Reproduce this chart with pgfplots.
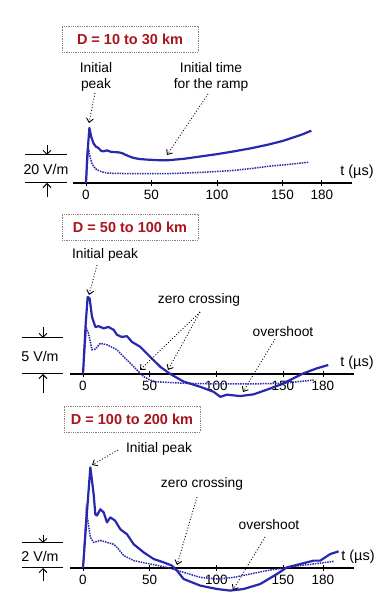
\documentclass[border=0pt]{standalone}
\usepackage{pgfplots}
\pgfplotsset{compat=1.18}
\usepackage{fontspec}
\setmainfont{Liberation Sans}
\usetikzlibrary{arrows.meta}
\definecolor{curve}{RGB}{40,40,175}
\definecolor{dred}{RGB}{170,20,30}
\definecolor{boxc}{RGB}{150,120,120}
\pgfplotsset{panel/.style={
  axis x line=middle, axis y line=none,
  axis line style={line width=1.7pt,-},
  xtick={0,50,100,150,180}, ytick=\empty,
  xticklabel style={font=\fontsize{13.5}{14}\selectfont, yshift=-0.5pt},
  tick style={black, line width=0.8pt},
  major tick length=6pt, tick align=center,
  /pgf/number format/assume math mode=true,
  clip=false, anchor=origin,
  xmin=-10, xmax=203,
}}
\tikzset{
  sol/.style={curve, line width=2.2pt, line join=round},
  dot/.style={curve, line width=1.5pt, densely dotted},
  ann/.style={black, line width=0.9pt, dotted, -{Straight Barb[length=4pt,width=7pt]}},
  sbar/.style={black, line width=1pt, -{Straight Barb[length=4pt,width=8pt]}},
  lab/.style={font=\fontsize{13.8}{16}\selectfont, align=center, inner sep=0pt},
  ttl/.style={draw=boxc, densely dotted, line width=0.8pt, minimum width=136pt, minimum height=26pt, inner sep=0pt,
     font=\bfseries\fontsize{14.5}{14.5}\selectfont, text=dred},
}
\begin{document}
\begin{tikzpicture}[x=1pt,y=1pt]
\useasboundingbox (0,0) rectangle (390,597);
% ---------- Panel 1 ----------
\begin{axis}[panel, at={(86pt,414pt)}, x=1.31pt, y=1.4pt, ymin=-5, ymax=45]
\addplot[sol] coordinates {(0,0) (1,20) (2.6,39.3) (4,33) (5.6,28.6) (7.5,26) (9.5,25) (11.5,23) (13.3,22.6) (15.9,23.3) (19.7,22.1) (24,22) (27.4,21.4) (30,20.2) (33,19) (36.4,17.9) (41,17.1) (46.7,16.7) (55,16.3) (62,16.2) (75,17.3) (87.7,19) (100,20.6) (113,22.6) (126,24.8) (139,27.4) (150,30) (159.5,32.9) (166,35) (172,37.4)};
\addplot[dot] coordinates {(0,0) (1.8,25) (3,19) (4.4,14.3) (6,11.5) (8.2,9.5) (12,8) (16,7.1) (25,6.8) (36,6.7) (50,6.7) (62,6.7) (75,7.1) (88,7.6) (100,8.2) (113,9) (126,10.3) (139,11.9) (155,13.3) (170,14.8)};
\end{axis}
\node[ttl] at (130,558) {D = 10 to 30 km};
\node[lab] at (96,520) {Initial\\peak};
\draw[ann] (95,504) -- (89,474);
\node[lab] at (211,520) {Initial time\\for the ramp};
\draw[ann] (208,503) -- (167,442);
\node[lab, font=\fontsize{14.5}{16}\selectfont] at (357,425) {t (µs)};
\draw[line width=1pt] (25,442) -- (67,442);
\draw[line width=1pt] (25,414) -- (67,414);
\draw[sbar] (47,452) -- (47,442);
\draw[sbar] (47,400) -- (47,414);
\node[lab, font=\fontsize{14.2}{16}\selectfont] at (46,428) {20 V/m};
% ---------- Panel 2 ----------
\begin{axis}[panel, at={(83pt,223pt)}, x=1.333pt, y=7.13pt, ymin=-4, ymax=12]
\addplot[sol] coordinates {(0,0) (2,7) (3.5,10.8) (5,10.6) (6.75,8.0) (9.25,6.6) (11.75,6.7) (15.5,6.4) (19,6.6) (23,6.2) (25.5,5.5) (29,5.2) (33,5.3) (36.75,4.5) (43,3.8) (50.5,2.4) (58,1.0) (65.5,0) (75.5,-1.07) (88,-1.8) (98,-2.5) (103,-3.2) (108,-2.9) (118,-3.1) (128,-2.85) (138,-2.2) (148,-1.5) (158,-0.6) (165.5,0.1) (175.5,0.8) (184,1.26)};
\addplot[dot] coordinates {(0,0) (2.5,6.4) (4,5.8) (6.75,3.4) (9.25,3.5) (13,4.3) (18,4.1) (25.5,3.4) (30.5,2.4) (35.5,1.5) (40.5,0.56) (45.5,-0.37) (53,-1.07) (75.5,-1.3) (100.5,-1.4) (125.5,-1.4) (150.5,-1.3) (173,-0.84)};
\end{axis}
\node[ttl] at (130,370) {D = 50 to 100 km};
\node[lab] at (105,342) {Initial peak};
\draw[ann] (97,332) -- (89,302);
\node[lab] at (199,297) {zero crossing};
\draw[ann] (200,285) -- (140,227);
\draw[ann] (200,285) -- (168,227);
\node[lab] at (283,265) {overshoot};
\draw[ann] (275,258) -- (243,205);
\node[lab, font=\fontsize{14.5}{16}\selectfont] at (357,234) {t (µs)};
\draw[line width=1pt] (22,259) -- (63,259);
\draw[line width=1pt] (22,223) -- (63,223);
\draw[sbar] (43,270) -- (43,259);
\draw[sbar] (43,204) -- (43,223);
\node[lab, font=\fontsize{14.2}{16}\selectfont] at (40,241) {5 V/m};
% ---------- Panel 3 ----------
\begin{axis}[panel, at={(83pt,29pt)}, x=1.333pt, y=12.5pt, ymin=-2.5, ymax=9]
\addplot[sol] coordinates {(0,0) (3,4.5) (5.5,8.05) (8,5.9) (9.25,4.3) (10.5,4.2) (13,4.7) (15.5,4.45) (18,3.65) (20.5,4.05) (24,3.8) (28,3.1) (33,2.7) (38,1.9) (45.5,1.25) (53,0.72) (60.5,0.45) (66.75,0.19) (70.5,-0.21) (75.5,-0.88) (88,-1.41) (100.5,-1.68) (110.5,-1.81) (120.5,-1.68) (133,-1.28) (145.5,-0.48) (153,0.05) (163,0.32) (173,0.59) (178,0.59) (185.5,1.12) (191.75,1.33)};
\addplot[dot] coordinates {(0,0) (2.5,4.6) (5.5,2.45) (8,2.05) (13,2.2) (23,1.9) (25.5,1.65) (30.5,1.0) (38,0.59) (50.5,0.32) (63,0.05) (75.5,-0.35) (88,-0.75) (100.5,-0.88) (113,-0.75) (125.5,-0.48) (138,-0.21) (150.5,0) (163,0.19) (188,0.53)};
\end{axis}
\node[ttl] at (132,178) {D = 100 to 200 km};
\node[lab] at (159,148) {Initial peak};
\draw[ann] (118,147) -- (92,132);
\node[lab] at (202,113) {zero crossing};
\draw[ann] (197,100) -- (177,32);
\node[lab] at (269,72) {overshoot};
\draw[ann] (265,60) -- (233,7);
\node[lab, font=\fontsize{14.5}{16}\selectfont] at (358,40) {t (µs)};
\draw[line width=1pt] (22,54) -- (63,54);
\draw[line width=1pt] (22,29) -- (63,29);
\draw[sbar] (43,62) -- (43,54);
\draw[sbar] (43,16) -- (43,29);
\node[lab, font=\fontsize{14.2}{16}\selectfont] at (40,41) {2 V/m};
\end{tikzpicture}
\end{document}
